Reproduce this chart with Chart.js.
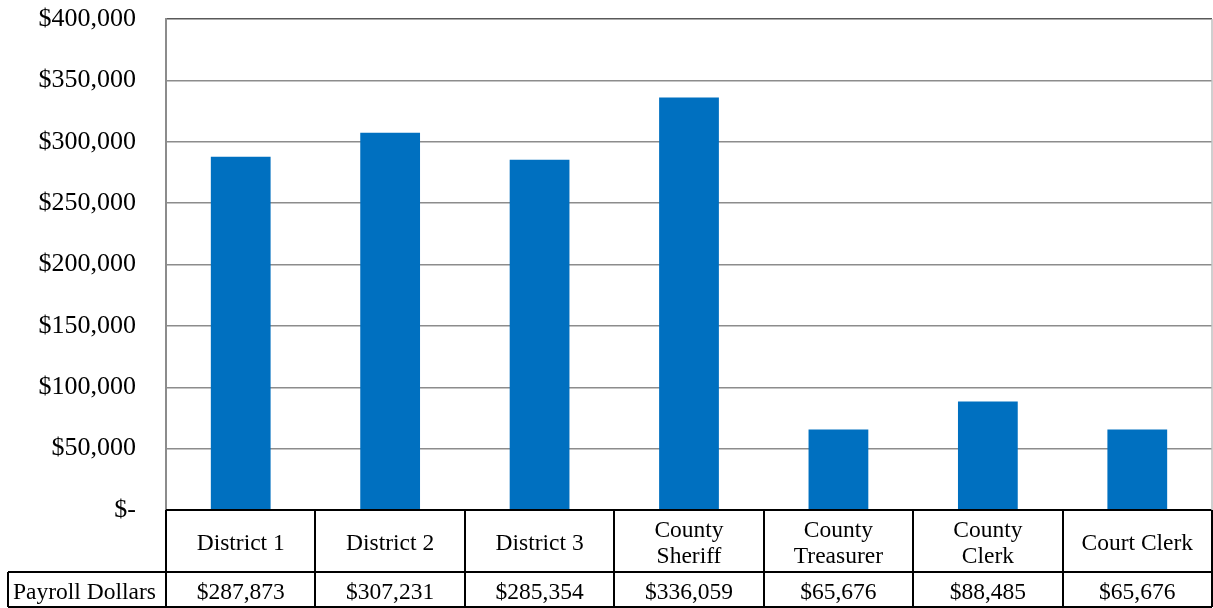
<!DOCTYPE html>
<html>
<head>
<meta charset="utf-8">
<script src="https://cdn.jsdelivr.net/npm/chart.js@4/dist/chart.umd.min.js"></script>
<style>
  html, body { margin: 0; padding: 0; background: #fff; }
  #wrap { width: 1213px; height: 608px; position: relative; }
</style>
</head>
<body>
<div id="wrap"><canvas id="payChart"></canvas></div>
<script>
const categories = ['District 1', 'District 2', 'District 3', ['County', 'Sheriff'], ['County', 'Treasurer'], ['County', 'Clerk'], 'Court Clerk'];
const payroll = [287873, 307231, 285354, 336059, 65676, 88485, 65676];
const seriesName = 'Payroll Dollars';
const yTicks = [0, 50000, 100000, 150000, 200000, 250000, 300000, 350000, 400000];

const SERIF = '"Liberation Serif", "Times New Roman", serif';
const fmtMoney = (v) => v === 0 ? '$-' : '$' + v.toLocaleString('en-US');

// data table drawn under the plot, aligned to the x scale
const dataTable = {
  id: 'dataTable',
  afterDraw(chart) {
    const { ctx, scales: { x, y } } = chart;
    const top = y.bottom, mid = top + 62, bot = 607;
    const left = x.left, right = x.right, n = categories.length;
    const step = (right - left) / n;
    ctx.save();
    ctx.strokeStyle = '#000';
    ctx.lineWidth = 2;
    ctx.beginPath();
    ctx.moveTo(left, top); ctx.lineTo(right, top);
    ctx.moveTo(8, mid); ctx.lineTo(right, mid);
    ctx.moveTo(8, bot); ctx.lineTo(right, bot);
    ctx.moveTo(8, mid); ctx.lineTo(8, bot);
    for (let i = 0; i <= n; i++) {
      const xx = Math.round(left + i * step);
      ctx.moveTo(xx, top); ctx.lineTo(xx, bot);
    }
    ctx.stroke();
    ctx.fillStyle = '#000';
    ctx.font = '23.5px ' + SERIF;
    ctx.textAlign = 'center';
    ctx.textBaseline = 'middle';
    categories.forEach((c, i) => {
      const cx = x.getPixelForValue(i);
      const lines = Array.isArray(c) ? c : [c];
      const lh = 26;
      const y0 = (top + mid) / 2 + 3 - (lines.length - 1) * lh / 2;
      lines.forEach((t, j) => ctx.fillText(t, cx, y0 + j * lh));
      ctx.fillText(fmtMoney(payroll[i]), cx, (mid + bot) / 2 + 3);
    });
    ctx.textAlign = 'left';
    ctx.fillText(seriesName, 13, (mid + bot) / 2 + 3);
    // plot frame on the right
    ctx.strokeStyle = '#bfbfbf';
    ctx.lineWidth = 1.5;
    ctx.beginPath();
    ctx.moveTo(right, y.top); ctx.lineTo(right, y.bottom);
    ctx.stroke();
    ctx.restore();
  }
};

new Chart(document.getElementById('payChart'), {
  type: 'bar',
  data: {
    labels: categories,
    datasets: [{ label: seriesName, data: payroll, backgroundColor: '#0070c0', borderWidth: 0, barPercentage: 0.4, categoryPercentage: 1 }]
  },
  options: {
    responsive: true,
    maintainAspectRatio: false,
    animation: false,
    layout: { padding: { top: 19, right: 1, bottom: 98, left: 0 } },
    plugins: { legend: { display: false }, tooltip: { enabled: false } },
    scales: {
      x: { display: false },
      y: {
        min: 0, max: 400000,
        afterFit(s) { s.width = 166; s.paddingTop = 0; s.paddingBottom = 0; },
        afterBuildTicks(s) { s.ticks = yTicks.map(v => ({ value: v })); },
        border: { display: true, color: '#8c8c8c', width: 2 },
        grid: {
          drawTicks: false,
          color: (c) => c.tick && c.tick.value === 400000 ? '#595959' : '#8c8c8c',
          lineWidth: 1.5
        },
        ticks: { padding: 30, color: '#000', font: { family: SERIF, size: 26 }, callback: (v) => fmtMoney(v) }
      }
    }
  },
  plugins: [dataTable]
});
</script>
</body>
</html>
